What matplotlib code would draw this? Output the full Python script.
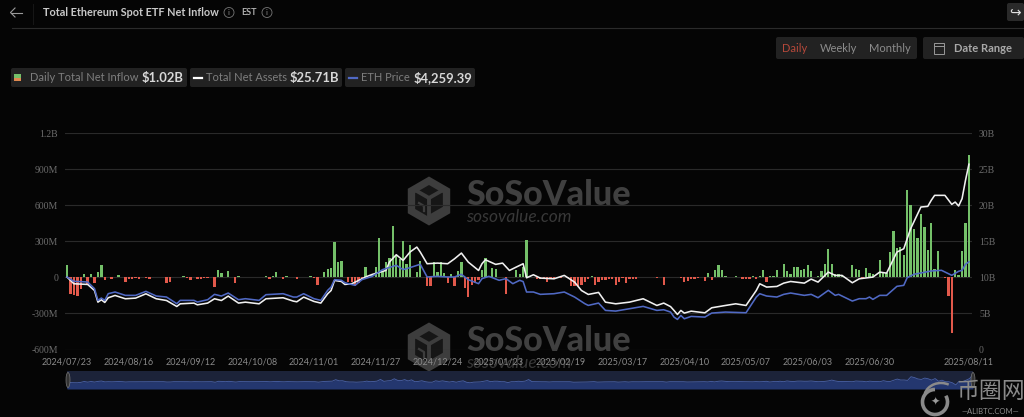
import matplotlib
matplotlib.use("Agg")
import matplotlib.pyplot as plt
from matplotlib.patches import FancyBboxPatch, RegularPolygon, Circle, Rectangle, Ellipse, Arc

# 일별 순유입 (백만 달러), 거래일 순서
inflow_m = [
    100, -135, -150, -155, -95, 30, -60, 30, -50, 45,
    100, -25, 0, -15, 0, 20, 5, -40, -15, -10,
    -5, -15, 0, -5, -10, 0, 3, 0, 0, -45,
    -40, 0, 0, 0, 8, -3, -20, 2, -10, -12,
    -8, -3, 2, -80, 60, 40, 0, 55, 0, -50,
    12, 3, 5, 0, 2, 0, 0, 0, 15, -12,
    15, 42, 0, -15, 10, 0, 0, -15, 0, 5,
    5, 10, -5, -65, 0, 45, 70, 80, 295, 130,
    140, 0, -40, -40, -70, -50, -15, 85, 0, 30,
    85, 330, 50, 125, 160, 425, 190, 150, 305, 110,
    270, 0, 45, 140, 0, -70, -75, 130, 45, 125,
    40, -50, 30, -75, 50, 130, -85, -160, -65, -50,
    -25, 60, 160, 0, 75, 70, 0, 0, -135, 0,
    0, 65, 30, 85, 310, 10, 0, -15, -10, -10,
    -40, -5, -3, 0, -5, 0, -5, -75, -70, -75,
    -60, -40, -10, 8, -60, -40, -25, -20, -15, -10,
    -60, -35, -5, -50, -10, -15, -15, 0, 0, 0,
    0, 0, -3, 0, -60, 0, 2, 0, 0, -5,
    -40, -30, -10, -10, -8, 0, -30, 35, -25, 60,
    105, 60, 10, 0, 3, 10, 0, -15, -15, -15,
    10, -10, 10, 60, -40, 12, 8, 65, 0, 110,
    50, 30, 85, 90, 65, 70, 105, 55, 0, 15,
    50, 115, 235, 110, 25, 30, 15, 0, 0, 100,
    70, 60, -15, 75, 35, 30, 0, 145, 45, 40,
    215, 385, 245, 250, 190, 725, 600, 400, 325, 530,
    420, 230, 455, 70, 220, 0, -5, -155, -465, 65,
    20, 220, 455, 1020,
]

# 총 순자산 (십억 달러): 그림에서 읽은 꺾임점
assets_day = [0, 2, 6, 8, 9, 10, 11, 12, 14, 17, 20, 23, 26, 29, 32, 33, 37, 38, 41, 43,
              45, 47, 50, 52, 56, 58, 63, 66, 67, 69, 72, 74, 76, 77, 78, 80, 81, 83, 85, 87,
              89, 93, 94, 96, 98, 100, 102, 103, 105, 108, 111, 113, 115, 117, 120, 121, 122, 125, 127, 129,
              131, 133, 134, 136, 138, 142, 145, 148, 150, 152, 155, 157, 160, 164, 168, 172, 174, 176, 177, 178,
              179, 180, 182, 186, 188, 192, 195, 198, 201, 202, 204, 207, 209, 211, 215, 217, 219, 222, 224, 226,
              229, 231, 235, 237, 239, 242, 244, 246, 249, 251, 252, 253, 256, 258, 259, 260, 261, 262, 263]
assets_b = [10.05, 9.12, 9.03, 8.19, 6.57, 6.9, 6.53, 7.18, 7.5, 7.04, 7.13, 7.73, 7.04, 6.8, 5.97, 6.34, 6.44, 6.2, 6.44, 7.04,
            6.8, 7.41, 6.44, 6.57, 6.34, 7.04, 7.18, 6.71, 6.62, 7.27, 6.67, 6.44, 7.73, 8.19, 9.58, 9.44, 9.03, 9.12, 9.58, 10.05,
            10.42, 10.97, 12.13, 13.15, 12.36, 13.52, 14.21, 13.52, 11.9, 11.99, 11.9, 12.59, 13.38, 12.13, 10.97, 11.9, 12.45, 11.81, 11.99, 10.97,
            11.44, 11.9, 9.95, 10.37, 9.91, 9.81, 10.28, 9.35, 8.19, 7.64, 7.92, 6.57, 6.34, 6.57, 7.04, 6.11, 6.44, 5.95, 5.42, 4.86,
            5.42, 5.05, 5.32, 5.09, 5.79, 6.11, 6.34, 6.11, 8.19, 9.12, 8.66, 8.75, 9.21, 9.44, 9.21, 9.77, 9.35, 10.74, 10.28, 10.28,
            9.26, 9.81, 10.05, 10.74, 10.6, 13.52, 13.98, 16.76, 19.77, 19.86, 20.69, 21.39, 21.39, 20.14, 20.46, 19.91, 20.93, 23.47, 25.71]

# ETH 가격 (달러): 그림에서 읽은 꺾임점
price_day = [0, 2, 6, 8, 9, 10, 11, 12, 14, 17, 20, 23, 26, 29, 32, 33, 37, 38, 41, 43,
             45, 47, 50, 52, 56, 58, 63, 66, 67, 69, 72, 74, 76, 77, 78, 80, 81, 82, 84, 86,
             89, 92, 96, 98, 100, 103, 105, 108, 111, 113, 115, 117, 120, 121, 123, 126, 128, 130, 132, 133,
             134, 136, 138, 142, 145, 148, 151, 152, 155, 157, 160, 164, 168, 172, 174, 176, 177, 178, 179, 180,
             182, 186, 188, 192, 198, 201, 202, 204, 207, 209, 211, 215, 217, 219, 222, 224, 225, 229, 231, 233,
             234, 235, 237, 239, 242, 244, 245, 247, 252, 255, 258, 260, 261, 262, 263]
price_usd = [3522, 3311, 3278, 2954, 2386, 2499, 2386, 2710, 2792, 2629, 2629, 2824, 2597, 2548, 2224, 2386, 2386, 2305, 2418, 2678,
             2597, 2743, 2418, 2467, 2386, 2662, 2710, 2548, 2548, 2710, 2467, 2386, 2873, 3035, 3392, 3360, 3246, 3197, 3116, 3392,
             3554, 3879, 4090, 3879, 3976, 4139, 3522, 3554, 3522, 3522, 3652, 3392, 3197, 3441, 3554, 3360, 3441, 3197, 3360, 3300,
             2792, 2792, 2678, 2710, 2792, 2548, 2224, 2142, 2256, 1899, 1866, 1980, 2094, 1899, 1931, 1818, 1574, 1461, 1655, 1493,
             1607, 1574, 1769, 1818, 1785, 2548, 2710, 2597, 2548, 2678, 2743, 2629, 2678, 2516, 2873, 2629, 2678, 2353, 2467, 2467,
             2548, 2434, 2629, 2629, 3067, 3116, 3490, 3652, 3814, 3846, 3603, 3798, 3846, 4139, 4259]

tick_days = [0, 18, 36, 54, 72, 90, 108, 126, 144, 162, 180, 198, 216, 234, 263]
tick_dates = ["2024/07/23", "2024/08/16", "2024/09/12", "2024/10/08", "2024/11/01",
              "2024/11/27", "2024/12/24", "2025/01/23", "2025/02/19", "2025/03/17",
              "2025/04/10", "2025/05/07", "2025/06/03", "2025/06/30", "2025/08/11"]
left_ticks = [-600, -300, 0, 300, 600, 900, 1200]
left_labels = ["-600M", "-300M", "0", "300M", "600M", "900M", "1.2B"]
right_ticks = [0, 5, 10, 15, 20, 25, 30]
right_labels = ["0", "5B", "10B", "15B", "20B", "25B", "30B"]

BG = "#050505"
GREEN = "#74c069"
RED = "#e2594b"
BLUE = "#5069c4"
W, H = 1024, 417

plt.rcParams['font.family'] = ['Lato', 'DejaVu Sans']

fig = plt.figure(figsize=(W / 100, H / 100), dpi=100, facecolor=BG)

# 픽셀 좌표로 그리는 배경 레이어 (헤더, 버튼, 워터마크)
bg = fig.add_axes([0, 0, 1, 1], zorder=0)
bg.set_xlim(0, W)
bg.set_ylim(H, 0)
bg.axis("off")


def chip(x0, y0, x1, y1, color="#222222"):
    bg.add_patch(FancyBboxPatch((x0 + 2, y0 + 2), x1 - x0 - 4, y1 - y0 - 4,
                                boxstyle="round,pad=2", fc=color, ec="none"))


def label(x, y, s, size=8, color="#8a8a8a", weight="normal", ha="left", **kw):
    bg.text(x, y, s, fontsize=size, color=color, fontweight=weight, ha=ha, va="center", **kw)


def watermark(cy):
    bg.add_patch(RegularPolygon((429, cy), 6, radius=24.5, fc="#3d3d3d", ec="none"))
    bg.add_patch(RegularPolygon((429, cy), 6, radius=16, fc="#161616", ec="none"))
    bg.plot([429, 429, 443], [cy - 3, cy + 16, cy + 8], color="#3d3d3d", lw=2.8)
    bg.plot([415, 429, 443], [cy - 11, cy - 3, cy - 11], color="#3d3d3d", lw=2.8)
    bg.plot([419, 424, 424], [cy + 2, cy + 5, cy + 10], color="#3d3d3d", lw=1.6)
    label(466, cy - 6, "SoSoValue", size=24.5, color="#404040", weight="black")
    label(466, cy + 16, "sosovalue.com", size=12.5, color="#383838", style="italic")


# 상단 헤더
bg.plot([12, W], [27.5, 27.5], color="#2b2b2b", lw=0.8)
bg.plot([33, 33], [4, 24], color="#161616", lw=0.8)
bg.plot([22, 10.5], [12.5, 12.5], color="#9a9a9a", lw=0.8)
bg.plot([15, 10.5, 15], [8, 12.5, 17], color="#9a9a9a", lw=0.8)
label(43, 12.5, "Total Ethereum Spot ETF Net Inflow", size=7.8, color="#c8c8c8", weight="bold")
bg.add_patch(Circle((229, 12.5), 5, fc="none", ec="#777777", lw=0.6))
label(229, 12.5, "i", size=5.5, ha="center", color="#888888")
label(241, 12.5, "EST", size=6.5, color="#b0b0b0", weight="bold")
bg.add_patch(Circle((267, 12.5), 5, fc="none", ec="#777777", lw=0.6))
label(267, 12.5, "i", size=5.5, ha="center", color="#888888")
chip(1007, 3, 1024, 21, "#2a2a2a")
label(1015.5, 12, "\u21aa", size=10, color="#e0e0e0", ha="center", family=['DejaVu Sans'])

# 기간 버튼
chip(776, 37, 917, 59)
label(782, 48.5, "Daily", size=8, color="#b5483a")
label(820, 48.5, "Weekly", size=8, color="#8c8c8c")
label(869, 48.5, "Monthly", size=8, color="#8c8c8c")
chip(923, 37, 1024, 59)
bg.add_patch(Rectangle((934, 43), 10, 11, fc="none", ec="#999999", lw=0.7))
bg.plot([934, 944], [46, 46], color="#999999", lw=0.7)
label(954, 48.5, "Date Range", size=8, color="#a8a8a8", weight="bold")

# 범례
chip(11, 68, 187, 87)
bg.add_patch(Rectangle((14, 74), 7, 3.5, fc=GREEN, ec="none"))
bg.add_patch(Rectangle((14, 77.5), 7, 3.5, fc="#e08a50", ec="none"))
label(30, 77.5, "Daily Total Net Inflow", size=8, color="#7e7e7e")
label(142, 77.5, "$1.02B", size=9.4, color="#d8d8d8", weight="bold")
chip(190, 68, 342, 87)
bg.plot([194, 202], [77.5, 77.5], color="white", lw=1.6)
label(206, 77.5, "Total Net Assets", size=8, color="#7e7e7e")
label(290, 77.5, "$25.71B", size=9.4, color="#d8d8d8", weight="bold")
chip(345, 68, 475, 87)
bg.plot([349, 357], [77.5, 77.5], color=BLUE, lw=1.6)
label(361, 77.5, "ETH Price", size=8, color="#7e7e7e")
label(414, 77.5, "$4,259.39", size=9.4, color="#d8d8d8", weight="bold")

watermark(201)
watermark(347)

# 본 차트
ax = fig.add_axes([65 / W, 1 - 349.5 / H, (972 - 65) / W, (349.5 - 133.3) / H], zorder=1)
ax.patch.set_alpha(0)
days = list(range(len(inflow_m)))
bar_colors = [GREEN if v >= 0 else RED for v in inflow_m]
ax.bar(days, inflow_m, width=0.68, color=bar_colors, zorder=2)
ax.set_xlim(-0.6, 263.9)
ax.set_ylim(-600, 1200)
ax.set_yticks(left_ticks)
ax.set_yticklabels(left_labels, family=['Liberation Serif'])
ax.set_xticks(tick_days)
ax.set_xticklabels(tick_dates)
ax.grid(axis="y", color="#2a2a2a", lw=0.8, zorder=0)
ax.tick_params(axis="y", length=0, labelsize=7, labelcolor="#6c6c6c", pad=5)
ax.tick_params(axis="x", length=0, labelsize=6.5, labelcolor="#8a8a8a", pad=6)
for s in ax.spines.values():
    s.set_visible(False)

ax2 = ax.twinx()
ax2.plot(assets_day, assets_b, color="#f0f0f0", lw=1.15, zorder=4)
ax2.set_ylim(0, 30)
ax2.set_yticks(right_ticks)
ax2.set_yticklabels(right_labels, family=['Liberation Serif'])
ax2.tick_params(axis="y", length=0, labelsize=7, labelcolor="#6c6c6c", pad=5)

ax3 = ax.twinx()
ax3.plot(price_day, price_usd, color=BLUE, lw=1.15, zorder=3)
ax3.set_ylim(0, 10500)
ax3.set_yticks([])
for a in (ax2, ax3):
    for s in a.spines.values():
        s.set_visible(False)

# 하단 슬라이더
sl = fig.add_axes([67 / W, 1 - 389 / H, (973 - 67) / W, 18 / H], zorder=1)
sl.set_facecolor("#1c2339")
sl.fill_between(days, inflow_m, -1066, color="#24376f", lw=0)
sl.plot(days, inflow_m, color="#4a62a8", lw=0.6)
sl.set_xlim(0, 263)
sl.set_ylim(-1066, 1560)
sl.set_xticks([])
sl.set_yticks([])
for s in sl.spines.values():
    s.set_visible(False)

# 슬라이더 손잡이와 오른쪽 아래 워터마크는 맨 위 레이어
fg = fig.add_axes([0, 0, 1, 1], zorder=2)
fg.set_xlim(0, W)
fg.set_ylim(H, 0)
fg.axis("off")
fg.add_patch(Ellipse((68, 380), 4, 15, fc="#333333", ec="#777777", lw=0.5))
fg.add_patch(Ellipse((973, 380), 4, 15, fc="#333333", ec="#777777", lw=0.5))
fg.add_patch(Arc((935, 402), 25, 25, theta1=-30, theta2=270, color="#8a8a8a", lw=2.6))
fg.add_patch(Arc((941, 398), 34, 30, theta1=195, theta2=300, color="#8a8a8a", lw=1.8))
fg.text(935, 402, "\u2726", fontsize=8, color="#9a9a9a", ha="center", va="center",
        family=['DejaVu Sans'])
fg.text(991, 392, "币圈网", fontsize=16.5, color="#8a8a8a", ha="center", va="center",
        family=['Noto Sans CJK SC', 'DejaVu Sans'])
fg.text(990, 411.5, "—ALIBTC.COM—", fontsize=5.5, color="#8c8c8c", ha="center", va="center")

fig.savefig("out.png", dpi=100, facecolor=BG)
